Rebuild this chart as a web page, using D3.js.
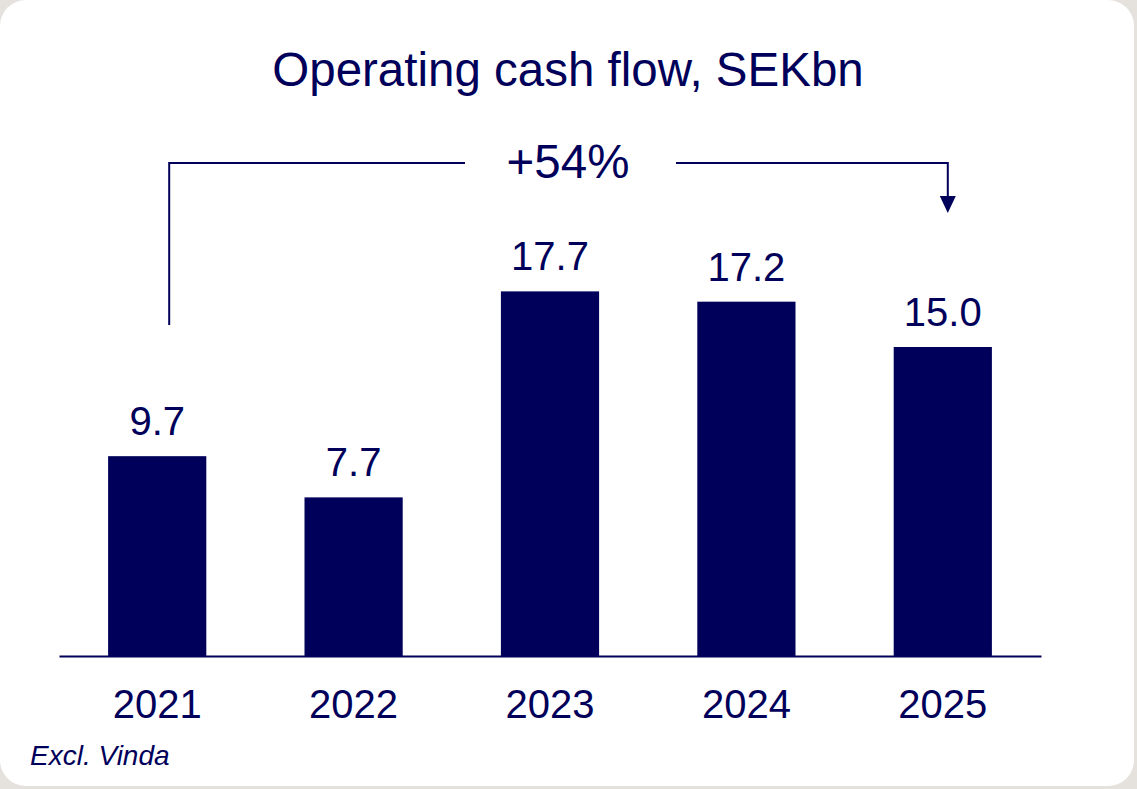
<!DOCTYPE html>
<html>
<head>
<meta charset="utf-8">
<script src="https://cdn.jsdelivr.net/npm/d3@7"></script>
<style>
  html, body { margin: 0; padding: 0; background: #e5e2de; }
  svg { display: block; }
  text { font-family: "Liberation Sans", Arial, sans-serif; fill: #00005a; }
</style>
</head>
<body>
<div id="chart"></div>
<script>
const years = ['2021', '2022', '2023', '2024', '2025'];
const values = [9.7, 7.7, 17.7, 17.2, 15.0];
const title = 'Operating cash flow, SEKbn';
const growthLabel = '+54%';
const footnote = 'Excl. Vinda';

const width = 1137;
const height = 789;
const navy = '#00005a';

const svg = d3.select('#chart')
    .append('svg')
    .attr('width', width)
    .attr('height', height);

// white card
svg.append('rect')
    .attr('x', 0)
    .attr('y', 0)
    .attr('width', 1134)
    .attr('height', 786)
    .attr('rx', 26)
    .attr('fill', '#fff');

const xScale = d3.scaleBand()
    .domain(years)
    .range([59, 1041])
    .paddingInner(0.5)
    .paddingOuter(0.25);

const baseline = 656;
const yScale = d3.scaleLinear().domain([0, 20]).range([baseline, baseline - 412]);

// title
svg.append('text')
    .attr('x', 568)
    .attr('y', 86)
    .attr('text-anchor', 'middle')
    .style('font-size', '47.5px')
    .text(title);

// bars
svg.append('g')
    .selectAll('rect')
    .data(values)
    .join('rect')
    .attr('x', (d, i) => xScale(years[i]))
    .attr('y', (d) => yScale(d))
    .attr('width', xScale.bandwidth())
    .attr('height', (d) => baseline - yScale(d))
    .attr('fill', navy);

// value labels
svg.append('g')
    .selectAll('text')
    .data(values)
    .join('text')
    .attr('x', (d, i) => xScale(years[i]) + xScale.bandwidth() / 2)
    .attr('y', (d) => yScale(d) - 21)
    .attr('text-anchor', 'middle')
    .style('font-size', '40px')
    .text((d) => d.toFixed(1));

// baseline axis
const xAxis = svg.append('g')
    .attr('transform', `translate(0, ${baseline})`)
    .call(d3.axisBottom(xScale).tickSize(0).tickPadding(34));
xAxis.select('.domain')
    .attr('stroke', navy)
    .attr('stroke-width', 2);
xAxis.selectAll('text')
    .style('font-size', '40px')
    .style('font-family', '"Liberation Sans", Arial, sans-serif')
    .attr('fill', navy);

// growth bracket
const cx0 = xScale(years[0]) + xScale.bandwidth() / 2 + 12;
const cx1 = xScale(years[4]) + xScale.bandwidth() / 2 + 5;
const bracketY = 163;
const bracket = svg.append('g')
    .attr('fill', 'none')
    .attr('stroke', navy)
    .attr('stroke-width', 2);
bracket.append('path')
    .attr('d', `M${cx0},325 V${bracketY} H465`);
bracket.append('path')
    .attr('d', `M676,${bracketY} H${cx1} V199`);
svg.append('path')
    .attr('d', `M${cx1 - 8},196 L${cx1 + 8},196 L${cx1},213 Z`)
    .attr('fill', navy);

svg.append('text')
    .attr('x', 568)
    .attr('y', 178)
    .attr('text-anchor', 'middle')
    .style('font-size', '47.5px')
    .text(growthLabel);

// footnote
svg.append('text')
    .attr('x', 30)
    .attr('y', 765)
    .style('font-size', '28px')
    .style('font-style', 'italic')
    .text(footnote);
</script>
</body>
</html>
